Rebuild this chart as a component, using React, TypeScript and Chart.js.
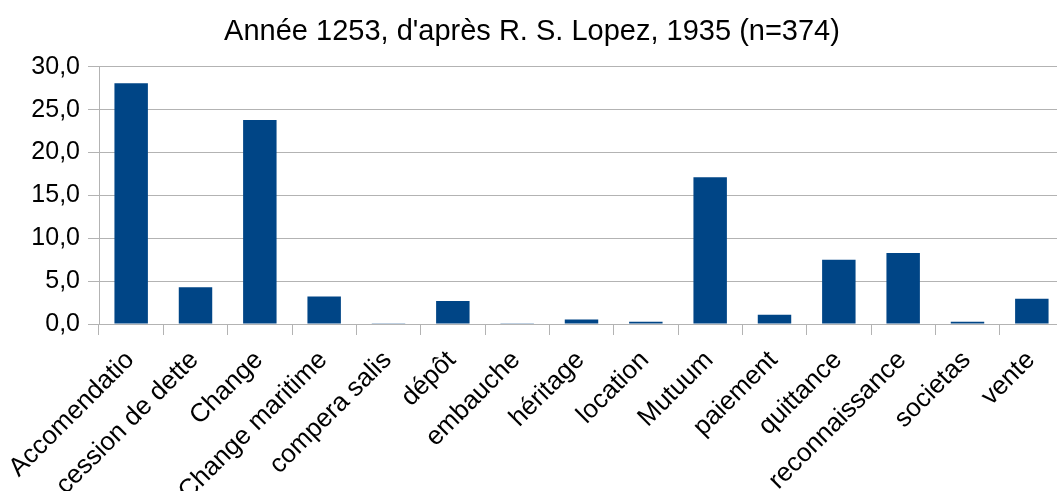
import React, { useEffect, useRef } from "react";
import { Chart, registerables } from "chart.js";

Chart.register(...registerables);

const categories = [
  "Accomendatio",
  "cession de dette",
  "Change",
  "Change maritime",
  "compera salis",
  "dépôt",
  "embauche",
  "héritage",
  "location",
  "Mutuum",
  "paiement",
  "quittance",
  "reconnaissance",
  "societas",
  "vente",
];

const percentages = [28.07, 4.28, 23.8, 3.21, 0.1, 2.67, 0.1, 0.53, 0.27, 17.11, 1.07, 7.49, 8.29, 0.27, 2.94];

const yTicks = [0, 5, 10, 15, 20, 25, 30];

const titleText = "Année 1253, d'après R. S. Lopez, 1935 (n=374)";

export default function App() {
  const ref = useRef<HTMLCanvasElement | null>(null);
  useEffect(() => {
    if (!ref.current) return;
    const font = "'Liberation Sans', Arial, sans-serif";
    const chart = new Chart(ref.current, {
      type: "bar",
      data: {
        labels: categories,
        datasets: [
          {
            data: percentages,
            backgroundColor: "#004586",
            borderWidth: 0,
            categoryPercentage: 1,
            barPercentage: 0.52,
          },
        ],
      },
      options: {
        animation: false,
        responsive: false,
        maintainAspectRatio: false,
        layout: { padding: 0 },
        plugins: {
          legend: { display: false },
          tooltip: { enabled: false },
          title: {
            display: true,
            text: titleText,
            color: "#000",
            font: { family: font, size: 29, weight: "normal", lineHeight: 1.2 },
            padding: { top: 15, bottom: 17 },
          },
        },
        scales: {
          x: {
            offset: true,
            grid: {
              offset: true,
              drawOnChartArea: false,
              drawTicks: true,
              tickLength: 11,
              color: "#b3b3b3",
            },
            border: { display: true, color: "#b3b3b3" },
            ticks: {
              color: "#000",
              font: { family: font, size: 26 },
              minRotation: 45,
              maxRotation: 45,
              autoSkip: false,
              padding: 10,
              labelOffset: -1,
            },
            afterFit: (scale: any) => {
              scale.height = 167;
              scale.paddingLeft = 0;
              scale.paddingRight = 0;
            },
          },
          y: {
            min: 0,
            max: 30,
            afterBuildTicks: (scale: any) => {
              scale.ticks = yTicks.map((v) => ({ value: v }));
            },
            grid: {
              color: "#b3b3b3",
              tickLength: 11,
              drawTicks: true,
            },
            border: { display: true, color: "#b3b3b3" },
            ticks: {
              color: "#000",
              font: { family: font, size: 25 },
              padding: 8,
              callback: (v: any) => Number(v).toFixed(1).replace(".", ","),
            },
            afterFit: (scale: any) => {
              scale.width = 99;
              scale.paddingTop = 0;
              scale.paddingBottom = 0;
            },
          },
        },
      },
    });
    return () => chart.destroy();
  }, []);
  return (
    <div style={{ position: "absolute", left: 0, top: 0, width: 1057, height: 491, overflow: "hidden", background: "#fff" }}>
      <canvas ref={ref} width={1064} height={491} style={{ display: "block" }} />
    </div>
  );
}
